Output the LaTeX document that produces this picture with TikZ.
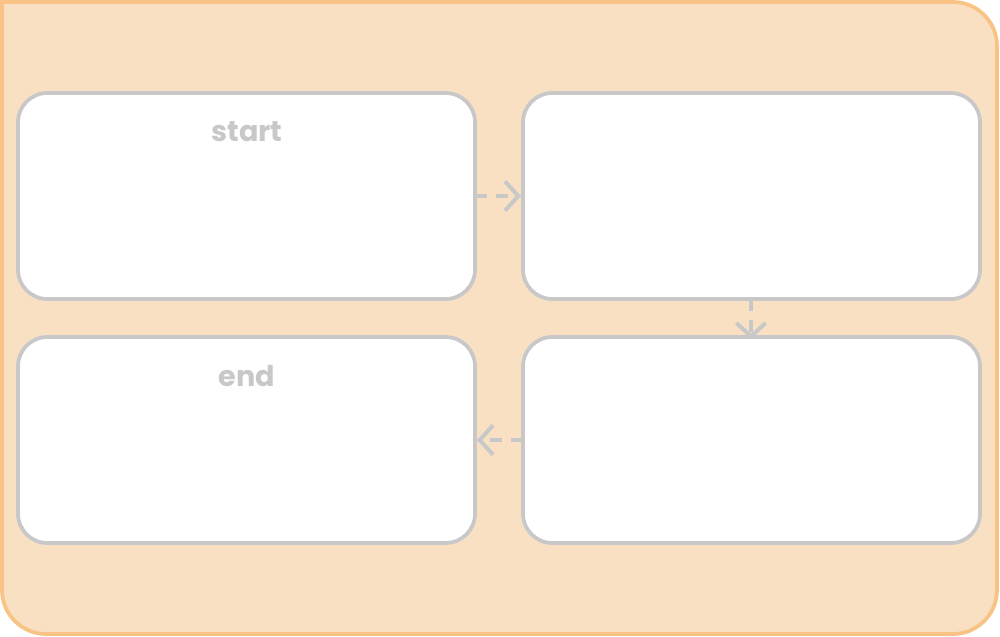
\documentclass[tikz,border=0pt]{standalone}
\usepackage{fontspec}
\setmainfont{Poppins}
\usetikzlibrary{arrows.meta}
\definecolor{frameline}{HTML}{F8C384}
\definecolor{framefill}{HTML}{F9E0C3}
\definecolor{boxline}{HTML}{C8C8C8}
\tikzset{
  stepbox/.style={draw=boxline, fill=white, line width=2.8pt, rounded corners=22pt},
  flow/.style={draw=boxline, line width=3pt, dash pattern=on 9pt off 7pt,
    -{Straight Barb[length=10pt,width=22pt,line width=3pt]}},
  lbl/.style={text=boxline, font=\bfseries\fontsize{21.5}{26}\selectfont, inner sep=0pt}
}
\begin{document}
\begin{tikzpicture}[x=0.75pt,y=-0.75pt]
\useasboundingbox (0,0) rectangle (1000,636);
\draw[draw=frameline, fill=framefill, line width=2.8pt]
  (2,2) -- (952,2) [rounded corners=33pt] -- (997,2) -- (997,634) -- (2,634) [sharp corners] -- (2,300) -- cycle;
\path[stepbox] (18,93) rectangle (475,299);
\path[stepbox] (523,93) rectangle (980,299);
\path[stepbox] (18,337) rectangle (475,543);
\path[stepbox] (523,337) rectangle (980,543);
\coordinate (b1r) at (475,196);
\coordinate (b2l) at (523,196);
\coordinate (b2b) at (751,299);
\coordinate (b4t) at (751,337);
\coordinate (b4l) at (523,440);
\coordinate (b3r) at (475,440);
\node[lbl, anchor=base] (start) at (247,141) {start};
\node[lbl, anchor=base] (endl) at (247,386) {end};
\draw[flow] (b1r) -- ([xshift=-1.5]b2l);
\draw[flow] (b2b) -- ([yshift=-1.5]b4t);
\draw[flow] (b4l) -- ([xshift=1.5]b3r);
\end{tikzpicture}
\end{document}
